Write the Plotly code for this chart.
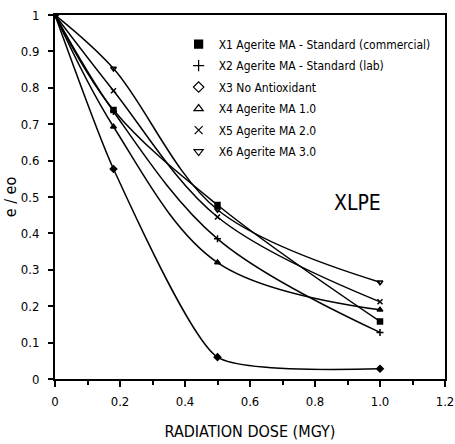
import plotly.graph_objects as go

dose = [0, 0.18, 0.5, 1.0]
x1 = [1.0, 0.739, 0.478, 0.158]
x2 = [1.0, 0.735, 0.385, 0.128]
x3 = [1.0, 0.577, 0.060, 0.028]
x4 = [1.0, 0.693, 0.320, 0.190]
x5 = [1.0, 0.792, 0.445, 0.212]
x6 = [1.0, 0.853, 0.465, 0.266]

names = ["X1 Agerite MA - Standard (commercial)",
         "X2 Agerite MA - Standard (lab)",
         "X3 No Antioxidant",
         "X4 Agerite MA 1.0",
         "X5 Agerite MA 2.0",
         "X6 Agerite MA 3.0"]
series = [x1, x2, x3, x4, x5, x6]
symbols = ["square", "cross-thin-open", "diamond-open", "triangle-up-open",
           "x-thin-open", "triangle-down-open"]
plot_symbols = ["square", "cross-thin-open", "diamond", "triangle-up",
                "x-thin-open", "triangle-down-open"]
smooth = [1.0, 1.0, 0.55, 1.0, 1.0, 1.0]

xticks = [0, 0.2, 0.4, 0.6, 0.8, 1.0, 1.2]
xticktext = ["0", "0.2", "0.4", "0.6", "0.8", "1.0", "1.2"]
yticks = [0, 0.1, 0.2, 0.3, 0.4, 0.5, 0.6, 0.7, 0.8, 0.9, 1.0]
yticktext = ["0", "0.1", "0.2", "0.3", "0.4", "0.5", "0.6", "0.7", "0.8", "0.9", "1"]

FONT = "DejaVu Sans Condensed, Liberation Sans Narrow, Arial Narrow, sans-serif"

fig = go.Figure()
for ys, sym, sm in zip(series, plot_symbols, smooth):
    fig.add_trace(go.Scatter(
        x=dose, y=ys, mode="lines+markers",
        line=dict(color="black", width=1.5, shape="spline", smoothing=sm),
        marker=dict(symbol=sym, size=5, color="black",
                    line=dict(color="black", width=1.5)),
        showlegend=False, hoverinfo="skip"))

for i, (name, sym) in enumerate(zip(names, symbols)):
    fig.add_trace(go.Scatter(
        x=[None], y=[None], mode="markers", name=name, legendgroup="g%d" % i,
        marker=dict(symbol=sym, size=8, color="black",
                    line=dict(color="black", width=1.2))))

fig.add_annotation(x=0.93, y=0.483, xref="x", yref="y", text="XLPE",
                   showarrow=False, font=dict(size=21, color="black", family=FONT))

fig.update_layout(
    width=455, height=444,
    margin=dict(l=55, r=10, t=15, b=65, autoexpand=False),
    paper_bgcolor="white", plot_bgcolor="white",
    font=dict(family=FONT, color="black", size=13),
    showlegend=True,
    legend=dict(x=0.317, y=0.96, xanchor="left", yanchor="top",
                bgcolor="rgba(0,0,0,0)", itemwidth=30,
                font=dict(size=12, family=FONT, color="black"),
                tracegroupgap=2.5),
    xaxis=dict(range=[0, 1.2], tickvals=xticks, ticktext=xticktext,
               showline=True, linecolor="black", linewidth=2, mirror=True,
               ticks="outside", ticklen=6, tickwidth=2, tickcolor="black",
               ticklabelstandoff=3,
               minor=dict(dtick=0.1, ticks="outside", ticklen=4, tickwidth=1.5,
                          tickcolor="black", showgrid=False),
               showgrid=False, zeroline=False, automargin=False,
               title=dict(text="RADIATION DOSE (MGY)", font=dict(size=16), standoff=18)),
    yaxis=dict(range=[0, 1], tickvals=yticks, ticktext=yticktext,
               showline=True, linecolor="black", linewidth=2, mirror=True,
               ticks="outside", ticklen=5, tickwidth=1.5, tickcolor="black",
               ticklabelstandoff=6,
               showgrid=False, zeroline=False, automargin=False,
               title=dict(text="e / eo", font=dict(size=16), standoff=0)),
)

fig.write_html("out.html", config={"displayModeBar": False},
               post_script="document.body.style.margin='0';")
